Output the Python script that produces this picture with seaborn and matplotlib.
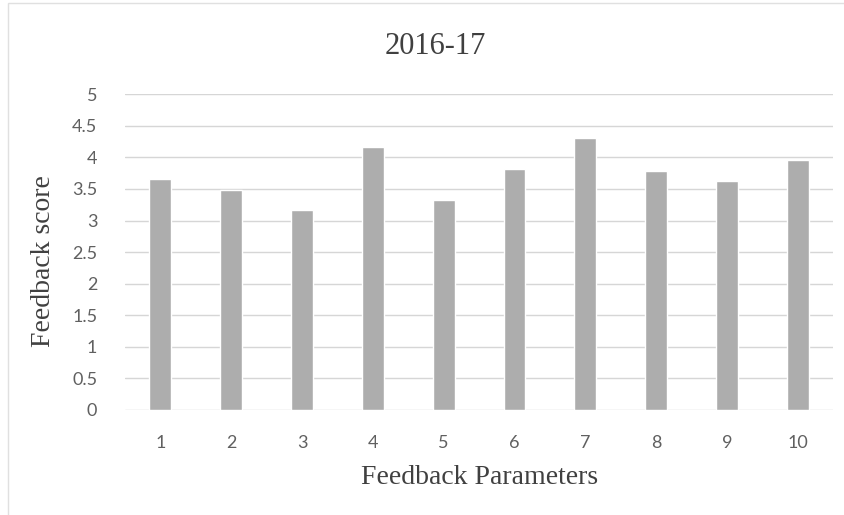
import matplotlib
matplotlib.use("Agg")
import matplotlib.pyplot as plt
import seaborn as sns
import pandas as pd

# Valores
parametros = ["1", "2", "3", "4", "5", "6", "7", "8", "9", "10"]
puntajes = [3.66, 3.49, 3.16, 4.16, 3.32, 3.81, 4.31, 3.79, 3.62, 3.96]
y_ticks = [0, 0.5, 1, 1.5, 2, 2.5, 3, 3.5, 4, 4.5, 5]
y_labels = ["0", "0.5", "1", "1.5", "2", "2.5", "3", "3.5", "4", "4.5", "5"]

df = pd.DataFrame({"param": parametros, "score": puntajes})

sns.set_theme(style="white")
plt.rcParams["font.family"] = ["Liberation Serif", "DejaVu Serif"]

fig = plt.figure(figsize=(8.45, 5.15), dpi=100)
ax = fig.add_axes([0.148, 0.204, 0.838, 0.613])

sns.barplot(data=df, x="param", y="score", order=parametros,
            color="#adadad", width=0.31, saturation=1, ax=ax, zorder=3)

ax.set_ylim(0, 5)
ax.set_xlim(-0.5, 9.5)
ax.set_yticks(y_ticks)
ax.set_yticklabels(y_labels)
ax.grid(axis="y", color="#d6d6d6", linewidth=1, zorder=0)
ax.grid(axis="x", visible=False)
ax.set_axisbelow(True)
for s in ax.spines.values():
    s.set_visible(False)
ax.tick_params(axis="both", length=0, labelsize=13, labelcolor="#606060")
ax.tick_params(axis="x", pad=18)
ax.tick_params(axis="y", pad=20)
for lbl in ax.get_xticklabels() + ax.get_yticklabels():
    lbl.set_fontfamily(["Lato", "DejaVu Sans"])

ax.set_xlabel("Feedback Parameters", fontsize=20, color="#404040", labelpad=10)
ax.set_ylabel("")
fig.text(0.051, 0.493, "Feedback score", rotation=90, fontsize=20,
         color="#404040", ha="center", va="center")
fig.text(0.515, 0.91, "2016-17", fontsize=22, color="#404040",
         ha="center", va="center")

# borde tenue del area del grafico
fig.patches.append(plt.Rectangle((0.009, -0.05), 1.2, 1.044, transform=fig.transFigure,
                                 fill=False, edgecolor="#e0e0e0", linewidth=1))

fig.savefig("out.png", dpi=100)
